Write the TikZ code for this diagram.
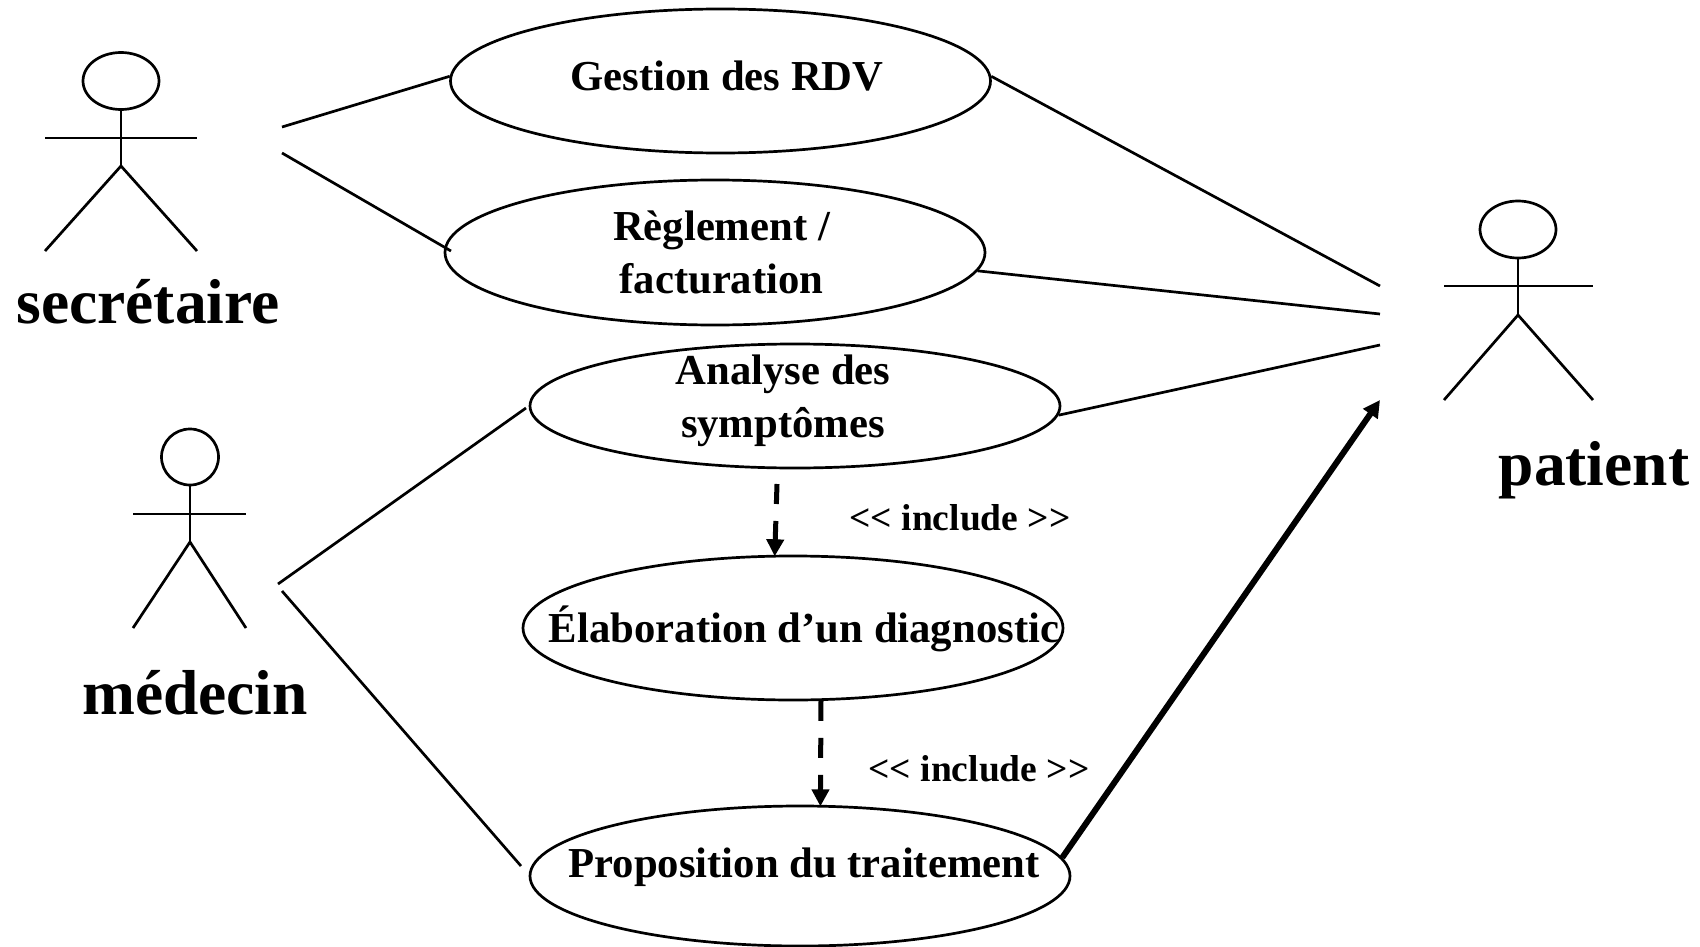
\documentclass[tikz,border=0pt]{standalone}
\usepackage{fontspec}
\setmainfont{Liberation Serif}
\usetikzlibrary{arrows.meta,shapes.geometric}
\tikzset{
  x=1pt,y=-1pt,
  line/.style={line width=2.7pt,draw=black},
  usecase/.style={shape=ellipse,line width=2.7pt,draw=black,inner sep=0pt,minimum width=540pt,minimum height=144pt},
  head/.style={shape=ellipse,line width=2.7pt,draw=black,inner sep=0pt},
  casetext/.style={anchor=base,inner sep=0pt,font=\fontsize{42.7}{43}\selectfont\bfseries},
  actortext/.style={anchor=base,inner sep=0pt,font=\fontsize{63.5}{64}\selectfont\bfseries},
  inctext/.style={anchor=base,inner sep=0pt,font=\fontsize{37.5}{38}\selectfont\bfseries},
  incl/.style={line width=5pt,dash pattern=on 20pt off 17pt,shorten >=-1.5pt,-{Triangle[length=17pt,width=17pt]}},
}
\begin{document}
\begin{tikzpicture}
\useasboundingbox (0,0) rectangle (1700,947);
% use cases
\node[usecase] (gestion) at (720.5,81) {};
\node[usecase,minimum height=145pt] (reglement) at (715,252.5) {};
\node[usecase,minimum width=530pt,minimum height=124pt] (analyse) at (795,406) {};
\node[usecase] (elab) at (793,628) {};
\node[usecase,minimum height=140pt] (prop) at (800,876) {};
% case texts
\node[casetext] (t1) at (727,91) {Gestion des RDV};
\node[casetext] (t2a) at (721.5,240) {Règlement /};
\node[casetext] (t2b) at (721.5,293) {facturation};
\node[casetext] (t3a) at (783,384) {Analyse des};
\node[casetext] (t3b) at (783,437) {symptômes};
\node[casetext] (t4) at (804,642) {Élaboration d’un diagnostic};
\node[casetext] (t5) at (804,877) {Proposition du traitement};
\node[inctext] (i1) at (960,530) {{<}{<} include {>}{>}};
\node[inctext] (i2) at (979,781) {{<}{<} include {>}{>}};
% actor labels
\node[actortext] (lsec) at (148,323) {secrétaire};
\node[actortext] (lmed) at (195,714) {médecin};
\node[actortext] (lpat) at (1594,485) {patient};
% secretaire
\node[head,minimum width=76pt,minimum height=57pt] (hs) at (121,81) {};
\coordinate (sh) at (121,166);
\coordinate (sal) at (45,138); \coordinate (sar) at (197,138);
\coordinate (sll) at (45,251); \coordinate (slr) at (197,251);
\draw[line] (hs.south) -- (sh);
\draw[line] (sal) -- (sar);
\draw[line] (sll) -- (sh) -- (slr);
% medecin
\node[head,minimum width=57pt,minimum height=56pt] (hm) at (190,457) {};
\coordinate (mh) at (190,542);
\coordinate (mal) at (133,514); \coordinate (mar) at (246,514);
\coordinate (mll) at (133,628); \coordinate (mlr) at (246,628);
\draw[line] (hm.south) -- (mh);
\draw[line] (mal) -- (mar);
\draw[line] (mll) -- (mh) -- (mlr);
% patient
\node[head,minimum width=76pt,minimum height=57pt] (hp) at (1518,229.5) {};
\coordinate (ph) at (1518,315);
\coordinate (pal) at (1444,286); \coordinate (par) at (1593,286);
\coordinate (pll) at (1444,400); \coordinate (plr) at (1593,400);
\draw[line] (hp.south) -- (ph);
\draw[line] (pal) -- (par);
\draw[line] (pll) -- (ph) -- (plr);
% free ends
\coordinate (s1) at (282,127); \coordinate (s2) at (282,153);
\coordinate (r2) at (451,251);
\coordinate (m1) at (278,584); \coordinate (m2) at (282,591);
\coordinate (a1) at (526,408);
\coordinate (p5) at (521,866);
\coordinate (p1) at (1380,286); \coordinate (p2) at (1380,314);
\coordinate (p3) at (1380,345); \coordinate (p4) at (1380,400);
\coordinate (a0) at (777,484);
% connectors
\draw[line] (s1) -- (gestion.179);
\draw[line] (s2) -- (r2);
\draw[line] (gestion.1) -- (p1);
\draw[line] (reglement.-4.8) -- (p2);
\draw[line] (analyse.-2.3) -- (p3);
\draw[line] (m1) -- (a1);
\draw[line] (m2) -- (p5);
\draw[incl] (a0) -- (elab.104);
\draw[incl] (elab.-69.4) -- (prop.74);
\draw[line width=6pt,-{Triangle[length=17pt,width=17pt]}] (prop.4.8) -- (p4);
\end{tikzpicture}
\end{document}
